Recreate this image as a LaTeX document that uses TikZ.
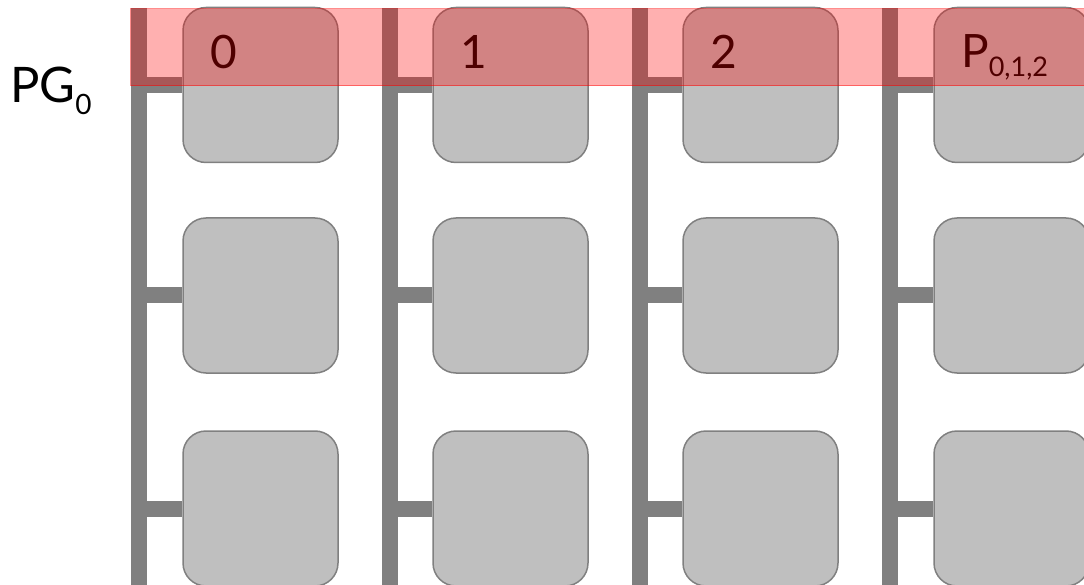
\documentclass[tikz,border=0pt]{standalone}
\usepackage{fontspec}
\setmainfont{Lato}
\usetikzlibrary{backgrounds}
\definecolor{barcol}{HTML}{808080}
\definecolor{cellcol}{HTML}{BFBFBF}
\begin{document}
\begin{tikzpicture}[x=1pt,y=-1pt,
  bar/.style={draw=barcol,line width=16pt},
  cell/.style={draw=barcol,line width=1.5pt,fill=cellcol,rounded corners=23pt,minimum width=155pt,minimum height=155pt,inner sep=0pt},
  lbl/.style={inner sep=0pt,anchor=base west,font=\fontsize{46}{50}\selectfont},
  band/.style={fill=red,fill opacity=0.31,draw=red,draw opacity=0.45,line width=1pt,inner sep=0pt,anchor=north west}]
\clip (0,0) rectangle (1084,585);
% cells
\foreach \c/\x in {0/260.5,1/510.5,2/760.5,3/1011.5}{
  \node[cell] (c\c0) at (\x,85) {};
  \node[cell] (c\c1) at (\x,295.5) {};
  \node[cell] (c\c2) at (\x,508.5) {};
}
% bars
\foreach \c/\x in {0/139,1/389.5,2/640,3/890}{
  \coordinate (top\c) at (\x,8.5);
  \coordinate (bot\c) at (\x,590);
}
\begin{scope}[on background layer]
\foreach \c in {0,1,2,3}{
  \draw[bar] (top\c) -- (bot\c);
  \foreach \r in {0,1,2}{
    \draw[bar] (c\c\r.west -| top\c) -- (c\c\r.west);
  }
}
\end{scope}
% labels
\node[lbl] (l0) at (210,69) {0};
\node[lbl] (l1) at (460,69) {1};
\node[lbl] (l2) at (710,69) {2};
\node[lbl] (l3) at (961,68) {P\raisebox{-9pt}{\fontsize{27}{30}\selectfont 0,1,2}};
\node[inner sep=0pt,anchor=base west,font=\fontsize{49}{55}\selectfont] (pg) at (10,103) {PG\raisebox{-12pt}{\fontsize{28}{30}\selectfont 0}};
% band
\node[band,minimum width=980pt,minimum height=77pt] (band) at (130,8.5) {};
\end{tikzpicture}
\end{document}
